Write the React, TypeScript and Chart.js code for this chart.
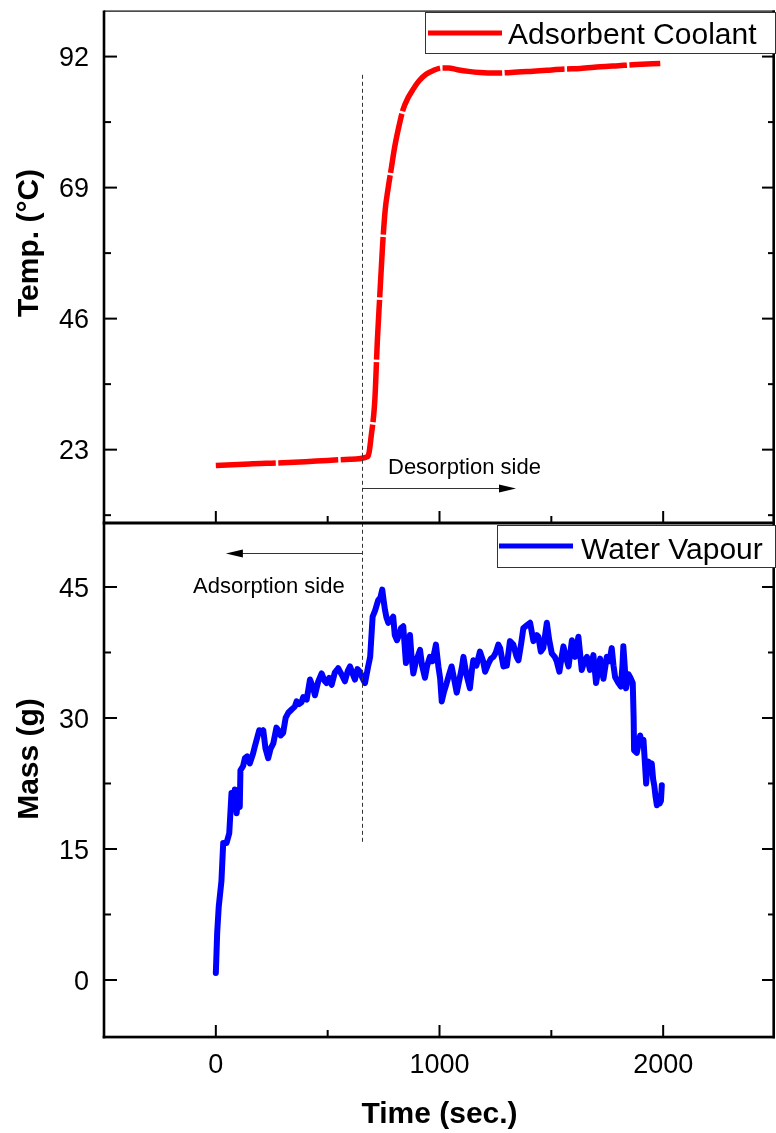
import React, { useEffect, useRef } from "react";
import { Chart, registerables } from "chart.js";

Chart.register(...registerables);

const FONT = '"Liberation Sans", Arial, Helvetica, sans-serif';

// ---- Data ----
const tempTime = [0, 150, 300, 450, 600, 680, 695, 711, 722, 733, 745, 757, 770, 785, 800, 820, 837, 860, 881, 910, 940, 975, 1010, 1040, 1080, 1130, 1181, 1250, 1320, 1405, 1480, 1560, 1629, 1720, 1800, 1880, 1987];
const tempValues = [20.2, 20.5, 20.7, 21.0, 21.3, 21.8, 25.5, 31.8, 42, 50, 58.5, 65, 68.8, 72.5, 76.2, 80, 82.7, 84.8, 86.2, 87.8, 88.9, 89.6, 90.0, 90.0, 89.7, 89.4, 89.2, 89.1, 89.2, 89.4, 89.6, 89.8, 89.9, 90.2, 90.4, 90.6, 90.8];

const massTime = [0, 6, 13, 25, 33, 48, 60, 70, 78, 85, 93, 100, 107, 110, 122, 130, 140, 152, 165, 174, 194, 205, 212, 222, 234, 245, 257, 271, 279, 290, 301, 312, 324, 340, 353, 361, 372, 383, 391, 406, 421, 433, 443, 458, 473, 485, 495, 507, 518, 532, 547, 562, 577, 590, 600, 611, 622, 633, 644, 655, 667, 681, 690, 701, 712, 726, 736, 744, 750, 756, 763, 771, 782, 793, 800, 810, 822, 828, 838, 845, 850, 858, 868, 875, 883, 895, 905, 913, 922, 935, 945, 957, 968, 977, 984, 995, 1003, 1010, 1020, 1032, 1043, 1054, 1065, 1077, 1090, 1100, 1107, 1120, 1130, 1136, 1145, 1151, 1165, 1181, 1195, 1204, 1220, 1230, 1241, 1252, 1263, 1271, 1286, 1301, 1315, 1330, 1345, 1353, 1365, 1375, 1390, 1405, 1420, 1435, 1442, 1453, 1464, 1480, 1490, 1502, 1515, 1524, 1536, 1545, 1554, 1565, 1577, 1592, 1606, 1621, 1636, 1648, 1659, 1673, 1688, 1700, 1710, 1718, 1733, 1748, 1760, 1770, 1778, 1785, 1800, 1811, 1818, 1822, 1828, 1834, 1845, 1852, 1864, 1868, 1870, 1882, 1890, 1897, 1905, 1912, 1918, 1924, 1929, 1934, 1942, 1949, 1955, 1960, 1966, 1972, 1978, 1984, 1990, 1994];
const massValues = [0.8, 5.4, 8.4, 11.3, 15.7, 15.7, 16.8, 21.4, 20, 21.8, 19.1, 21, 19.8, 24, 24.5, 25.4, 25.6, 24.8, 25.8, 26.7, 28.6, 28.3, 28.6, 26.5, 25.4, 26.5, 27.1, 28.9, 28.6, 28.0, 28.3, 30, 30.6, 31, 31.3, 31.9, 31.6, 31.8, 32.4, 32.1, 34.4, 33.6, 32.6, 34.2, 35.1, 34.3, 34, 34.6, 33.8, 35.2, 35.7, 35, 34.2, 35.4, 35.9, 35.1, 34.4, 35.6, 35.3, 34.6, 34, 35.9, 37, 41.6, 42.3, 43.5, 43.8, 44.7, 43.5, 42.4, 41.5, 40.9, 41.2, 41.6, 39.5, 38.9, 39.7, 40.3, 40.5, 38, 36.3, 37.2, 39.5, 37, 35.1, 36.5, 37.2, 37.8, 36, 34.6, 36, 37, 36.5, 37.5, 38.4, 35.9, 34.5, 31.9, 33, 34, 35, 35.9, 34.5, 32.9, 34.5, 35.8, 37, 35, 34, 33.4, 35.5, 36.6, 36, 37.6, 36.5, 35.3, 36.3, 36.8, 37, 37.5, 38.4, 38, 35.9, 36, 38.8, 38.4, 37, 36.6, 38.5, 40.3, 40.6, 40.9, 38.8, 39.5, 39.3, 37.6, 38, 40.9, 39, 37.4, 37, 36.5, 35.3, 36.8, 38.2, 37, 35.9, 38.9, 37, 39.3, 35.5, 36.5, 37, 35.5, 37.2, 34, 35.5, 36.8, 34.5, 37, 36.5, 38, 36, 34.7, 34, 33.6, 36, 38.2, 36, 33.4, 35, 34.7, 34, 30, 26.3, 26, 27, 28, 27, 27.5, 25, 22.5, 24.5, 25, 24, 24.8, 23, 22.3, 21, 20, 21, 20.2, 20.5, 22.3];

const seriesNames = ["Adsorbent Coolant", "Water Vapour"];
const xTitle = "Time (sec.)";
const tempTitle = "Temp. (°C)";
const massTitle = "Mass (g)";
const xTickValues = [0, 1000, 2000];
const xTickLabels = ["0", "1000", "2000"];
const xMinorTicks = [500, 1500];
const tempTicks = [23, 46, 69, 92];
const tempMinorTicks = [11.5, 34.5, 57.5, 80.5];
const massTicks = [0, 15, 30, 45];
const massMinorTicks = [7.5, 22.5, 37.5];
const annotationTexts = ["Desorption side", "Adsorption side"];
const boundaryTime = 655;
const desorptionArrowEnd = 1342;
const adsorptionArrowEnd = 45;

const DIV_Y = 523;

const framePlugin = {
  id: "frame",
  afterDatasetsDraw(chart: any) {
    const ctx: CanvasRenderingContext2D = chart.ctx;
    const { left, right, top, bottom } = chart.chartArea;
    const xs = chart.scales.x;
    const yT = chart.scales.yTemp;
    const yM = chart.scales.yMass;
    ctx.save();

    // dashed boundary line
    const bx = Math.round(xs.getPixelForValue(boundaryTime)) + 0.5;
    ctx.strokeStyle = "#333";
    ctx.lineWidth = 1;
    ctx.setLineDash([4, 3]);
    ctx.beginPath();
    ctx.moveTo(bx, yT.getPixelForValue(88.8));
    ctx.lineTo(bx, yM.getPixelForValue(15.5));
    ctx.stroke();
    ctx.setLineDash([]);

    // arrows
    const arrow = (x0: number, x1: number, y: number) => {
      const dir = x1 > x0 ? 1 : -1;
      ctx.strokeStyle = "#333";
      ctx.lineWidth = 1;
      ctx.beginPath();
      ctx.moveTo(x0, y);
      ctx.lineTo(x1 - dir * 14, y);
      ctx.stroke();
      ctx.fillStyle = "#000";
      ctx.beginPath();
      ctx.moveTo(x1, y);
      ctx.lineTo(x1 - dir * 17, y - 4);
      ctx.lineTo(x1 - dir * 17, y + 4);
      ctx.closePath();
      ctx.fill();
    };
    const desY = Math.round(yT.getPixelForValue(16.2)) + 0.5;
    arrow(bx, xs.getPixelForValue(desorptionArrowEnd), desY);
    const adsY = Math.round(yM.getPixelForValue(48.9)) + 0.5;
    arrow(bx, xs.getPixelForValue(adsorptionArrowEnd), adsY);

    ctx.fillStyle = "#000";
    ctx.font = `22px ${FONT}`;
    ctx.textAlign = "left";
    ctx.textBaseline = "alphabetic";
    ctx.fillText(annotationTexts[0], 388, 474);
    ctx.fillText(annotationTexts[1], 193, 593);

    // frame
    ctx.fillStyle = "#000";
    ctx.fillRect(left, top - 0.5, right - left, 1.2); // top thin
    ctx.fillRect(left - 1.3, top - 0.5, 2.6, bottom - top + 1.8); // left axis
    ctx.fillRect(right - 2.6, top - 0.5, 2.6, bottom - top + 1.8); // right
    ctx.fillRect(left - 1.3, DIV_Y - 1.5, right - left + 1.3, 3); // divider
    ctx.fillRect(left - 1.3, bottom - 1.3, right - left + 1.3, 2.7); // bottom

    // y ticks
    const yTick = (py: number, len: number) => {
      ctx.fillRect(left, py - 1, len, 2);
      ctx.fillRect(right - len, py - 1, len, 2);
    };
    tempTicks.forEach((v) => yTick(yT.getPixelForValue(v), 13));
    tempMinorTicks.forEach((v) => yTick(yT.getPixelForValue(v), 7));
    massTicks.forEach((v) => yTick(yM.getPixelForValue(v), 13));
    massMinorTicks.forEach((v) => yTick(yM.getPixelForValue(v), 7));

    // x ticks (top panel bottom edge and bottom axis)
    const xTick = (px: number, len: number) => {
      ctx.fillRect(px - 1, DIV_Y - len, 2, len);
      ctx.fillRect(px - 1, bottom - len, 2, len);
    };
    xTickValues.forEach((v) => xTick(xs.getPixelForValue(v), 12));
    xMinorTicks.forEach((v) => xTick(xs.getPixelForValue(v), 7));

    // tick labels
    ctx.font = `27px ${FONT}`;
    ctx.textAlign = "right";
    tempTicks.forEach((v) => ctx.fillText(String(v), 89, yT.getPixelForValue(v) + 9.7));
    massTicks.forEach((v) => ctx.fillText(String(v), 89, yM.getPixelForValue(v) + 9.7));
    ctx.textAlign = "center";
    xTickValues.forEach((v, i) => ctx.fillText(xTickLabels[i], xs.getPixelForValue(v), 1073));

    // axis titles
    ctx.font = `bold 30px ${FONT}`;
    ctx.fillText(xTitle, (left + right) / 2, 1123);
    const vTitle = (text: string, x: number, y: number) => {
      ctx.save();
      ctx.translate(x, y);
      ctx.rotate(-Math.PI / 2);
      ctx.textAlign = "center";
      ctx.fillText(text, 0, 0);
      ctx.restore();
    };
    vTitle(tempTitle, 38, 243);
    vTitle(massTitle, 38, 759);

    // legends
    const legend = (bxl: number, byt: number, bxr: number, byb: number, color: string, lx0: number, lx1: number, ly: number, text: string, tx: number, ty: number) => {
      ctx.fillStyle = "#fff";
      ctx.fillRect(bxl, byt, bxr - bxl, byb - byt);
      ctx.strokeStyle = "#333";
      ctx.lineWidth = 1;
      ctx.strokeRect(bxl + 0.5, byt + 0.5, bxr - bxl - 1, byb - byt - 1);
      ctx.strokeStyle = color;
      ctx.lineWidth = 5;
      ctx.beginPath();
      ctx.moveTo(lx0, ly);
      ctx.lineTo(lx1, ly);
      ctx.stroke();
      ctx.fillStyle = "#000";
      ctx.font = `30px ${FONT}`;
      ctx.textAlign = "left";
      ctx.fillText(text, tx, ty);
    };
    legend(425, 12, 776, 54, "#ff0000", 428, 502, 33, seriesNames[0], 508, 43.5);
    legend(497, 525, 776, 568, "#0000ff", 499, 573, 546, seriesNames[1], 581, 558.5);

    ctx.restore();
  },
};

export default function App() {
  const canvasRef = useRef<HTMLCanvasElement | null>(null);

  useEffect(() => {
    const canvas = canvasRef.current;
    if (!canvas) return;
    const chart = new Chart(canvas, {
      type: "line",
      data: {
        datasets: [
          {
            label: seriesNames[0],
            data: tempTime.map((t, i) => ({ x: t, y: tempValues[i] })),
            xAxisID: "x",
            yAxisID: "yTemp",
            borderColor: "#ff0000",
            borderWidth: 5.5,
            pointRadius: 0,
            fill: false,
            cubicInterpolationMode: "monotone",
            borderDash: [60, 2.5],
            borderJoinStyle: "round",
          },
          {
            label: seriesNames[1],
            data: massTime.map((t, i) => ({ x: t, y: massValues[i] })),
            xAxisID: "x",
            yAxisID: "yMass",
            borderColor: "#0000ff",
            borderWidth: 6,
            pointRadius: 0,
            fill: false,
            tension: 0,
            borderJoinStyle: "round",
            borderCapStyle: "round",
          },
        ],
      },
      options: {
        responsive: false,
        maintainAspectRatio: false,
        animation: false,
        devicePixelRatio: 1,
        layout: { padding: { left: 104, top: 11, right: 1, bottom: 96 } },
        plugins: { legend: { display: false }, tooltip: { enabled: false } },
        scales: {
          x: { type: "linear", min: -500, max: 2500, display: false },
          yTemp: { type: "linear", position: "left", min: -80.1, max: 100, display: false },
          yMass: { type: "linear", position: "left", min: -6.527, max: 110.95, display: false },
        },
      },
      plugins: [framePlugin],
    } as any);
    return () => chart.destroy();
  }, []);

  return (
    <div style={{ position: "absolute", left: 0, top: 0, width: 776, height: 1133, background: "#fff" }}>
      <canvas ref={canvasRef} width={776} height={1133} style={{ display: "block" }} />
    </div>
  );
}
